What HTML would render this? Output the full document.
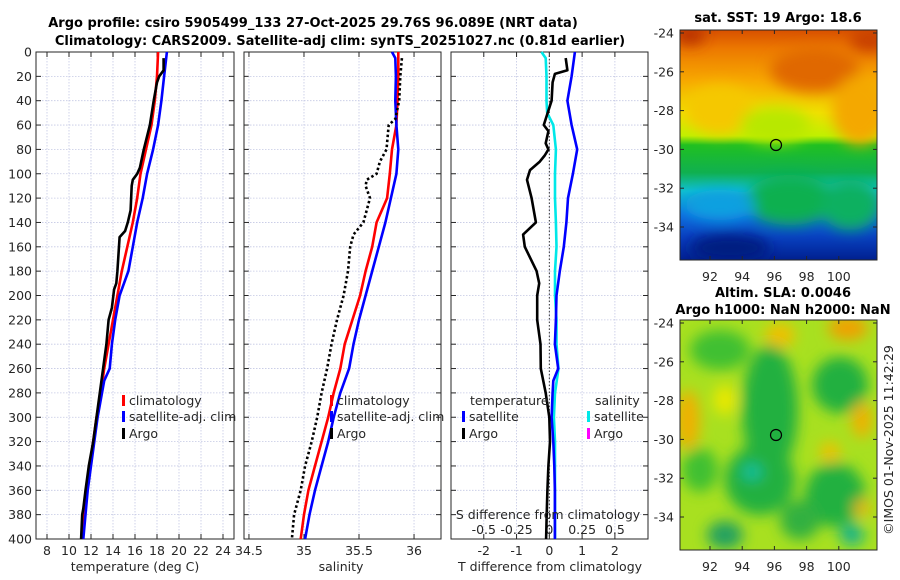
<!DOCTYPE html>
<html><head><meta charset="utf-8">
<style>
html,body{margin:0;padding:0;background:#fff;}
svg{display:block;font-family:"DejaVu Sans","Liberation Sans",sans-serif;}
.t{font-size:12.5px;fill:#262626;}
.b{font-weight:bold;font-size:13px;fill:#000;}
</style></head>
<body>
<svg id="fig" width="900" height="580" viewBox="0 0 900 580" xmlns="http://www.w3.org/2000/svg">
<defs>
<filter id="bl" x="-20%" y="-20%" width="140%" height="140%"><feGaussianBlur stdDeviation="7"/></filter>
<linearGradient id="sstg" x1="0" y1="0" x2="0" y2="1">
<stop offset="0" stop-color="#d85000"/><stop offset="0.08" stop-color="#ec7800"/><stop offset="0.22" stop-color="#f7a800"/>
<stop offset="0.36" stop-color="#f0e000"/><stop offset="0.46" stop-color="#c0f000"/><stop offset="0.5" stop-color="#20c020"/>
<stop offset="0.62" stop-color="#10b050"/><stop offset="0.7" stop-color="#10c0d0"/><stop offset="0.8" stop-color="#1070e0"/>
<stop offset="0.9" stop-color="#0840c0"/><stop offset="1" stop-color="#00208f"/></linearGradient>
<clipPath id="c1"><rect x="680" y="30" width="197" height="230"/></clipPath>
<clipPath id="c2"><rect x="680" y="320" width="197" height="230"/></clipPath>
</defs>
<text class="b" x="313" y="27" text-anchor="middle">Argo profile: csiro 5905499_133 27-Oct-2025 29.76S 96.089E (NRT data)</text>
<text class="b" x="340" y="45" text-anchor="middle">Climatology: CARS2009. Satellite-adj clim: synTS_20251027.nc (0.81d earlier)</text>

<!-- SST map -->
<g>
<g clip-path="url(#c1)">
<rect x="680" y="30" width="197" height="230" fill="url(#sstg)"/>
<g filter="url(#bl)">
<ellipse cx="815" cy="70" rx="45" ry="22" fill="#e06800"/>
<ellipse cx="690" cy="35" rx="15" ry="10" fill="#b83000"/>
<ellipse cx="870" cy="40" rx="20" ry="12" fill="#c84000"/>
<ellipse cx="720" cy="110" rx="35" ry="25" fill="#f5c800"/>
<ellipse cx="775" cy="125" rx="35" ry="18" fill="#b8e800"/>
<ellipse cx="860" cy="110" rx="28" ry="35" fill="#f4a800"/>
<ellipse cx="790" cy="200" rx="45" ry="25" fill="#10b050"/>
<ellipse cx="850" cy="205" rx="30" ry="25" fill="#10b060"/>
<ellipse cx="720" cy="205" rx="35" ry="15" fill="#10a0e0"/>
<ellipse cx="730" cy="248" rx="40" ry="14" fill="#001a80"/>
</g></g>
<rect x="680" y="30" width="197" height="230" fill="none" stroke="#262626"/>
<circle cx="776" cy="145" r="5.5" fill="none" stroke="#000" stroke-width="1.2"/>
<text class="b" x="778" y="22" text-anchor="middle">sat. SST: 19 Argo: 18.6</text>
</g>
<!-- SLA map -->
<g>
<g clip-path="url(#c2)">
<rect x="680" y="320" width="197" height="230" fill="#a8e020"/>
<g filter="url(#bl)">
<ellipse cx="770" cy="410" rx="28" ry="65" fill="#20b040"/>
<ellipse cx="760" cy="480" rx="35" ry="35" fill="#20b040"/>
<ellipse cx="752" cy="472" rx="10" ry="8" fill="#10c0a0"/>
<ellipse cx="840" cy="385" rx="28" ry="28" fill="#20b040"/>
<ellipse cx="835" cy="495" rx="30" ry="32" fill="#20b040"/>
<ellipse cx="852" cy="535" rx="12" ry="10" fill="#10b090"/>
<ellipse cx="725" cy="535" rx="18" ry="14" fill="#20a060"/>
<ellipse cx="700" cy="470" rx="18" ry="22" fill="#40c030"/>
<ellipse cx="720" cy="350" rx="30" ry="20" fill="#40c030"/>
<ellipse cx="800" cy="520" rx="20" ry="20" fill="#30b040"/>
<ellipse cx="848" cy="328" rx="20" ry="12" fill="#f0a000"/>
<ellipse cx="780" cy="335" rx="15" ry="12" fill="#f0c000"/>
<ellipse cx="688" cy="420" rx="12" ry="30" fill="#f0b000"/>
<ellipse cx="725" cy="400" rx="12" ry="15" fill="#e8e800"/>
<ellipse cx="862" cy="420" rx="10" ry="18" fill="#f0b000"/>
<ellipse cx="830" cy="452" rx="10" ry="10" fill="#f0c000"/>
<ellipse cx="862" cy="508" rx="8" ry="8" fill="#f0b000"/>
</g></g>
<rect x="680" y="320" width="197" height="230" fill="none" stroke="#262626"/>
<circle cx="776" cy="435" r="5.5" fill="none" stroke="#000" stroke-width="1.2"/>
<text class="b" x="783" y="297" text-anchor="middle">Altim. SLA: 0.0046</text>
<text class="b" x="783" y="314" text-anchor="middle">Argo h1000: NaN h2000: NaN</text>
</g>
<text class="t" transform="translate(893,440) rotate(-90)" text-anchor="middle">©IMOS 01-Nov-2025 11:42:29</text>
<g id="plots"></g>
</svg>
<script>
// ---- data ----
const tDepth = [0,20,40,60,80,100,120,140,160,180,200,220,240,260,280,300,320,340,360,380,400];
const tClim = [18.1,18.0,17.8,17.5,17.0,16.5,16.2,15.8,15.3,14.8,14.4,14.0,13.6,13.2,12.9,12.5,12.2,11.9,11.6,11.4,11.2];
const tSatDepth = [0,20,40,60,80,100,120,140,160,180,200,220,240,260,270,280,300,320,340,360,380,400];
const tSat = [18.9,18.65,18.4,18.1,17.65,17.1,16.7,16.2,15.8,15.4,14.6,14.2,13.9,13.7,13.2,13.0,12.6,12.3,12.0,11.7,11.5,11.3];
const argoDepth = [5,15,20,25,40,60,80,95,100,105,110,130,140,147,152,180,190,195,210,220,240,260,280,300,320,340,360,375,380,400];
const argoT = [18.6,18.6,18.2,18.0,17.7,17.35,16.8,16.45,16.2,15.8,15.7,15.6,15.35,15.1,14.6,14.4,14.3,14.1,13.9,13.6,13.4,13.1,12.8,12.5,12.2,11.8,11.5,11.3,11.2,11.1];
const sClim = [35.857,35.857,35.85,35.84,35.80,35.78,35.755,35.66,35.62,35.56,35.51,35.44,35.37,35.33,35.27,35.22,35.16,35.10,35.04,35.0,34.97];
const sSatDepth = [0,5,20,40,60,80,100,120,140,160,180,200,220,240,260,280,300,320,340,360,380,400];
const sSat = [35.80,35.83,35.835,35.83,35.84,35.857,35.84,35.79,35.74,35.68,35.62,35.56,35.50,35.45,35.41,35.33,35.27,35.22,35.16,35.10,35.05,35.01];
const sArgoDepth = [5,20,40,55,60,80,90,100,105,110,120,140,150,160,180,200,220,240,260,280,300,320,340,360,380,400];
const sArgo = [35.89,35.875,35.865,35.83,35.77,35.75,35.69,35.66,35.57,35.56,35.60,35.54,35.45,35.42,35.40,35.36,35.30,35.25,35.21,35.16,35.12,35.07,35.01,34.97,34.91,34.89];
const dTSat = [0.78,0.68,0.55,0.68,0.85,0.72,0.57,0.52,0.44,0.32,0.22,0.20,0.17,0.27,0.12,0.10,0.07,0.12,0.15,0.17,0.17,0.17];
const dSSatDepth = [0,5,20,40,50,60,80,100,120,140,160,180,200,220,240,260,280,300,320,340,360,380,400];
const dSSat = [-0.06,-0.028,-0.022,-0.022,-0.016,0.03,0.05,0.043,0.043,0.05,0.055,0.043,0.043,0.055,0.055,0.07,0.043,0.035,0.043,0.043,0.043,0.043,0.043];
const dTArgo = [0.5,0.55,0.17,0.10,0.07,-0.11,-0.17,-0.03,-0.11,-0.03,-0.14,-0.29,-0.59,-0.68,-0.54,-0.41,-0.8,-0.75,-0.39,-0.31,-0.37,-0.37,-0.27,-0.26,-0.11,0,0.02,-0.03,-0.06,-0.08,-0.10];
const dTArgoDepth = [5,15,18,25,40,55,60,65,75,80,85,90,97,105,120,140,150,160,180,190,200,220,240,260,280,300,320,340,360,380,400];
const depthTicks = [0,20,40,60,80,100,120,140,160,180,200,220,240,260,280,300,320,340,360,380,400];
const tTicks = [8,10,12,14,16,18,20,22,24];
const sTicks = [34.5,35,35.5,36];
const sTickLabels = ["34.5","35","35.5","36"];
const dTicks = [-2,-1,0,1,2];
const dsTicks = [-0.5,-0.25,0,0.25,0.5];
const dsTickLabels = ["-0.5","-0.25","0","0.25","0.5"];

// ---- axes ----
const NS = "http://www.w3.org/2000/svg";
const Y0 = 52, Y1 = 539;
function yD(d){ return Y0 + d*(Y1-Y0)/400; }
const P1 = {x0:36,x1:234,min:7,max:25};
const P2 = {x0:244,x1:441,min:34.455,max:36.245};
const P3 = {x0:451,x1:648,min:-3,max:3.01};
function xs(p,v){ return p.x0 + (v-p.min)/(p.max-p.min)*(p.x1-p.x0); }
const root = document.getElementById('plots');
function mk(tag, attrs, parent){ const e=document.createElementNS(NS,tag); for(const k in attrs) e.setAttribute(k,attrs[k]); (parent||root).appendChild(e); return e; }
function txt(x,y,s,anchor,parent){ const e=mk('text',{x:x,y:y,'text-anchor':anchor||'middle',class:'t'},parent); e.textContent=s; return e; }

function panel(p, name, xt, xlab, showY){
  const g = mk('g',{});
  
  
  depthTicks.forEach(d=>{
    mk('line',{x1:p.x0,x2:p.x1,y1:yD(d),y2:yD(d),stroke:'#c4c8e4','stroke-width':0.8,'stroke-dasharray':'1.5,1.5'},g);
    mk('line',{x1:p.x0,x2:p.x0+5,y1:yD(d),y2:yD(d),stroke:'#262626'},g);
    mk('line',{x1:p.x1-5,x2:p.x1,y1:yD(d),y2:yD(d),stroke:'#262626'},g);
    if(showY){ const t=txt(32,yD(d)+4.5,String(d),'end',g);   }
  });
  xt.forEach((v,i)=>{
    const x=xs(p,v);
    mk('line',{x1:x,x2:x,y1:Y0,y2:Y1,stroke:'#c4c8e4','stroke-width':0.8,'stroke-dasharray':'1.5,1.5'},g);
    mk('line',{x1:x,x2:x,y1:Y1-5,y2:Y1,stroke:'#262626'},g);
    mk('line',{x1:x,x2:x,y1:Y0,y2:Y0+5,stroke:'#262626'},g);
    const t=txt(x,555,xlab[i],'middle',g);
    
    
  });
  mk('rect',{x:p.x0,y:Y0,width:p.x1-p.x0,height:Y1-Y0,fill:'none',stroke:'#262626'},g);
  return g;
}
function line(p, xsArr, ds, color, name, dash, w){
  const pts = xsArr.map((v,i)=>xs(p,v).toFixed(1)+','+yD(ds[i]).toFixed(1)).join(' ');
  const e = mk('polyline',{points:pts,fill:'none',stroke:color,'stroke-width':w||2.6,'stroke-linejoin':'round'});
  if(dash) e.setAttribute('stroke-dasharray',dash);
  
  
  return e;
}
function legItem(x,y,color,label,name){
  const g=mk('g',{});
  
  
  mk('rect',{x:x,y:y-10,width:3,height:11,fill:color},g);
  txt(x+7,y,label,'start',g);
}

panel(P1,'temperature-panel',tTicks,tTicks.map(String),true);
panel(P2,'salinity-panel',sTicks,sTickLabels,false);
panel(P3,'difference-panel',dTicks,dTicks.map(String),false);
dsTicks.forEach((v,i)=>{ const t=txt(xs(P3,v*4),534,dsTickLabels[i],'middle');
  
   });
mk('line',{x1:xs(P3,0),x2:xs(P3,0),y1:Y0,y2:Y1,stroke:'#333','stroke-width':1,'stroke-dasharray':'1.5,2'});

// temperature
line(P1,tClim,tDepth,'#ff0000','temp-climatology-line');
line(P1,tSat,tSatDepth,'#0000ff','temp-satellite-line');
line(P1,argoT,argoDepth,'#000000','temp-argo-line');
// salinity
line(P2,sClim,tDepth,'#ff0000','sal-climatology-line');
line(P2,sSat,sSatDepth,'#0000ff','sal-satellite-line');
line(P2,sArgo,sArgoDepth,'#000000','sal-argo-line','2.5,2.5',2.6);
// differences
line(P3,dSSat.map(v=>v*4),dSSatDepth,'#00e8e8','sdiff-satellite-line');
line(P3,dTSat,tSatDepth,'#0000ff','tdiff-satellite-line');
line(P3,dTArgo,dTArgoDepth,'#000000','tdiff-argo-line');

// legends
legItem(122,405,'#ff0000','climatology','legend-climatology');
legItem(122,421,'#0000ff','satellite-adj. clim','legend-satellite-adj');
legItem(122,438,'#000000','Argo','legend-argo');
legItem(330,405,'#ff0000','climatology','legend-sal-climatology');
legItem(330,421,'#0000ff','satellite-adj. clim','legend-sal-satellite-adj');
legItem(330,438,'#000000','Argo','legend-sal-argo');
txt(470,405,'temperature','start');
txt(595,405,'salinity','start');
legItem(462,421,'#0000ff','satellite','legend-tdiff-satellite');
legItem(462,438,'#000000','Argo','legend-tdiff-argo');
legItem(587,421,'#00e8e8','satellite','legend-sdiff-satellite');
legItem(587,438,'#ff00ff','Argo','legend-sdiff-argo');
txt(548,519,'S difference from climatology','middle');

// axis titles
txt(135,571,'temperature (deg C)');
txt(341,571,'salinity');
txt(550,571,'T difference from climatology');

// map ticks
const latTicks = [-24,-26,-28,-30,-32,-34];
const lonTicks = [92,94,96,98,100];
function mlat(lat,off){ return off + 33 + (-24-lat)*19.4; }
function mlon(lon){ return 710 + (lon-92)*16.1; }
[0,290].forEach(off=>{
  latTicks.forEach(l=>{ const y=mlat(l,off);
    mk('line',{x1:680,x2:684,y1:y,y2:y,stroke:'#262626'}); mk('line',{x1:873,x2:877,y1:y,y2:y,stroke:'#262626'});
    const t=txt(674,y+4.5,String(l),'end');
    
     });
  lonTicks.forEach(l=>{ const x=mlon(l);
    mk('line',{x1:x,x2:x,y1:off+256,y2:off+260,stroke:'#262626'}); mk('line',{x1:x,x2:x,y1:off+30,y2:off+34,stroke:'#262626'});
    const t=txt(x,off+281,String(l),'middle');
    
     });
});
</script>
</body></html>
